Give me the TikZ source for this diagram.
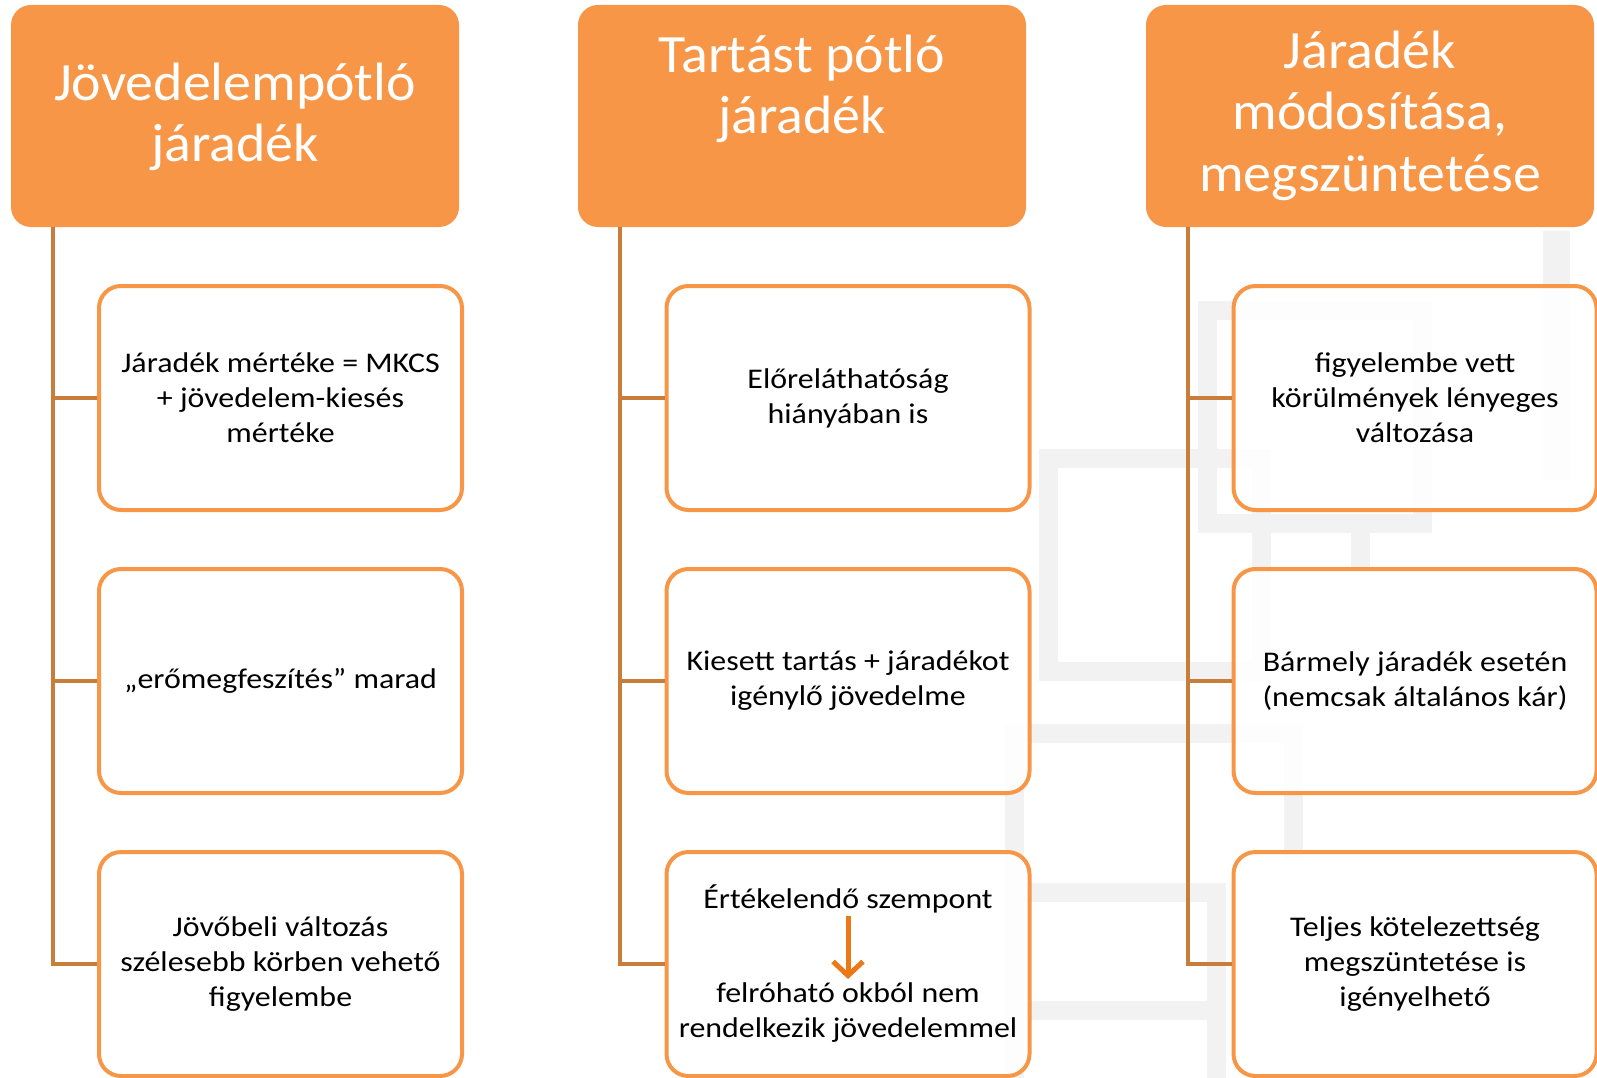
\documentclass[tikz,border=0pt]{standalone}
\usepackage{fontspec}
\setmainfont{Carlito}
\newfontfamily\headfont{Carlito}[FakeStretch=1.035]
\newfontfamily\bodyfont{Carlito}[FakeStretch=1.12]
\usepackage{xcolor}
\usepackage{tikz}
\usetikzlibrary{arrows.meta, positioning}
\definecolor{accent}{RGB}{247,150,70}
\definecolor{spine}{RGB}{201,125,58}
\definecolor{arrowor}{RGB}{236,120,22}
\definecolor{bggray}{RGB}{242,242,242}
\tikzstyle{headbox} = [rectangle, fill=accent, rounded corners=20pt, minimum width=448pt, minimum height=222pt, inner sep=0pt]
\tikzstyle{headtext} = [text=white, align=center, font=\headfont\fontsize{54}{61}\selectfont, inner sep=0pt, anchor=base]
\tikzstyle{itembox} = [rectangle, draw=accent, line width=4pt, fill=white, fill opacity=0.88, text opacity=1, rounded corners=22pt, minimum width=363pt, minimum height=224pt, inner sep=0pt, align=center, font=\bodyfont\fontsize{28.5}{35}\selectfont]
\tikzstyle{itemtext} = [align=center, font=\bodyfont\fontsize{28.5}{35}\selectfont, inner sep=0pt]
\tikzstyle{conn} = [draw=spine, line width=4pt]
\tikzstyle{bgline} = [draw=bggray, line width=19pt]
\tikzstyle{arrow} = [-{Straight Barb[length=14pt,width=30pt]}, draw=arrowor, line width=5pt]

\begin{document}
\begin{tikzpicture}[x=1pt, y=-1pt, node distance=55pt]
    \useasboundingbox (0,0) rectangle (1597,1078);
    % faint background pattern
    \draw[bgline, line width=27pt] (1556,231) -- (1556,480);
    \draw[bgline] (1048,458) rectangle (1261,671);
    \draw[bgline] (1207,310) rectangle (1422,523);
    \draw[bgline] (1360,523) -- (1360,570);
    \draw[bgline] (1293,860) -- (1293,733) -- (1014,733) -- (1014,1078);
    \draw[bgline] (1216,1078) -- (1216,892) -- (1014,892);
    \draw[bgline] (1014,1010) -- (1216,1010);

    % headers
    \node (hd1) at (235,116) [headbox] {};
    \node (hd2) at (802,116) [headbox] {};
    \node (hd3) at (1370,116) [headbox] {};
    \node (t1) at (235,162) [headtext] {Jövedelempótló\\járadék};
    \node (t2) at (802,134) [headtext] {Tartást pótló\\járadék};
    \node (t3) at (1370,191) [headtext] {Járadék\\módosítása,\\megszüntetése};

    % first column
    \node (b11) at (280.5,398) [itembox] {Járadék mértéke = MKCS\\+ jövedelem-kiesés\\mértéke};
    \node (b12) [itembox, below=of b11] {„erőmegfeszítés” marad};
    \node (b13) [itembox, below=of b12] {Jövőbeli változás\\szélesebb körben vehető\\figyelembe};

    % second column
    \node (b21) at (848,398) [itembox] {Előreláthatóság\\hiányában is};
    \node (b22) [itembox, below=of b21] {Kiesett tartás + járadékot\\igénylő jövedelme};
    \node (b23) [itembox, below=of b22] {};
    \node (b23a) at (848,899) [itemtext] {Értékelendő szempont};
    \node (b23b) at (848,1013) [itemtext] {felróható okból nem\\rendelkezik jövedelemmel};
    \draw[arrow, shorten >=4pt] ([yshift=-3pt]b23a.south) -- (b23b.north);

    % third column
    \node (b31) at (1415,398) [itembox] {figyelembe vett\\körülmények lényeges\\változása};
    \node (b32) [itembox, below=of b31] {Bármely járadék esetén\\(nemcsak általános kár)};
    \node (b33) [itembox, below=of b32] {Teljes kötelezettség\\megszüntetése is\\igényelhető};

    % spines
    \coordinate (s1) at ([xshift=42pt]hd1.south west);
    \coordinate (s2) at ([xshift=42pt]hd2.south west);
    \coordinate (s3) at ([xshift=42pt]hd3.south west);
    \draw[conn] (s1) |- (b13.west);
    \draw[conn] (b11.west) -- (b11.west -| s1);
    \draw[conn] (b12.west) -- (b12.west -| s1);
    \draw[conn] (s2) |- (b23.west);
    \draw[conn] (b21.west) -- (b21.west -| s2);
    \draw[conn] (b22.west) -- (b22.west -| s2);
    \draw[conn] (s3) |- (b33.west);
    \draw[conn] (b31.west) -- (b31.west -| s3);
    \draw[conn] (b32.west) -- (b32.west -| s3);
\end{tikzpicture}
\end{document}
